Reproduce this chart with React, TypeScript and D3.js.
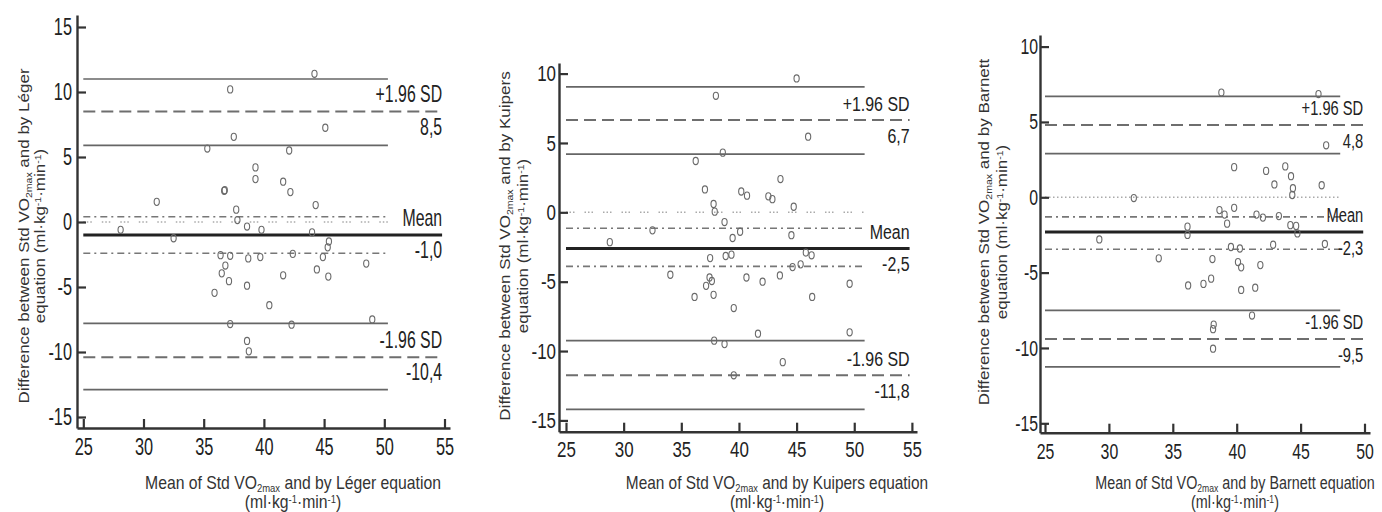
import React, { useEffect, useRef } from 'react';
import { axisBottom, axisLeft, scaleLinear, select } from 'd3';

// Léger equation: mean of both methods vs difference
const legerMean = [44.2, 37.2, 45.1, 37.5, 35.3, 42.1, 39.3, 39.3, 41.6, 42.2, 36.7, 36.75, 31.1, 44.3, 37.7, 37.8, 28.1, 38.6, 39.8, 44.0, 32.5, 45.4, 45.3, 36.4, 37.2, 38.7, 39.7, 42.4, 44.9, 48.5, 36.8, 36.5, 41.6, 44.4, 45.35, 37.1, 38.6, 35.9, 40.45, 37.2, 42.3, 49.0, 38.6, 38.75];
const legerDiff = [11.4, 10.2, 7.25, 6.55, 5.65, 5.5, 4.2, 3.3, 3.1, 2.3, 2.4, 2.45, 1.55, 1.3, 0.95, 0.15, -0.6, -0.35, -0.6, -0.8, -1.25, -1.5, -1.95, -2.55, -2.6, -2.8, -2.7, -2.45, -2.7, -3.2, -3.35, -3.95, -4.1, -3.65, -4.2, -4.55, -4.9, -5.45, -6.4, -7.85, -7.9, -7.5, -9.15, -9.95];

// Kuipers equation
const kuipersMean = [45.0, 38.0, 46.0, 38.6, 36.25, 43.6, 37.05, 40.2, 40.7, 42.55, 42.9, 37.8, 37.9, 44.75, 38.75, 32.5, 40.1, 44.55, 39.45, 28.8, 37.5, 38.85, 39.35, 45.8, 46.3, 45.35, 44.65, 34.05, 37.45, 37.65, 40.65, 42.05, 43.55, 49.6, 37.15, 36.15, 37.8, 46.35, 39.55, 41.65, 49.6, 37.85, 38.75, 43.8, 39.55];
const kuipersDiff = [9.65, 8.4, 5.45, 4.3, 3.7, 2.4, 1.65, 1.5, 1.2, 1.15, 0.95, 0.6, 0.05, 0.4, -0.7, -1.3, -1.4, -1.65, -1.85, -2.15, -3.3, -3.15, -3.05, -2.9, -3.1, -3.75, -3.95, -4.5, -4.7, -4.95, -4.7, -5.0, -4.55, -5.15, -5.3, -6.1, -5.95, -6.1, -6.9, -8.75, -8.65, -9.25, -9.5, -10.8, -11.75];

// Barnett equation
const barnettMean = [38.8, 46.4, 47.0, 39.8, 42.3, 43.8, 44.25, 42.95, 44.4, 44.35, 46.65, 31.95, 38.65, 39.8, 39.05, 39.25, 41.55, 42.05, 43.3, 44.2, 44.65, 44.75, 36.15, 36.15, 29.25, 39.55, 40.25, 42.85, 46.9, 33.9, 38.1, 40.1, 40.35, 41.85, 36.2, 37.4, 38.0, 40.35, 41.45, 41.2, 38.2, 38.15, 38.15];
const barnettDiff = [6.95, 6.85, 3.45, 2.0, 1.75, 2.05, 1.4, 0.85, 0.6, 0.15, 0.8, -0.05, -0.85, -0.7, -1.15, -1.75, -1.15, -1.35, -1.25, -1.85, -1.9, -2.4, -1.95, -2.5, -2.8, -3.3, -3.4, -3.15, -3.1, -4.05, -4.1, -4.3, -4.65, -4.5, -5.85, -5.75, -5.4, -6.15, -6.0, -7.85, -8.45, -8.75, -10.05];

// horizontal reference lines, top to bottom
const lineKinds = ['ci', 'limit', 'ci', 'meanci', 'mean', 'meanci', 'ci', 'limit', 'ci'];
const legerLines = [11.0, 8.5, 5.9, 0.4, -1.0, -2.4, -7.8, -10.4, -12.9];
const kuipersLines = [9.05, 6.65, 4.2, -1.15, -2.6, -3.9, -9.25, -11.75, -14.2];
const barnettLines = [6.7, 4.8, 2.9, -1.3, -2.3, -3.45, -7.5, -9.4, -11.25];

const lineNames = ['+1.96 SD', 'Mean', '-1.96 SD'];
const legerValues = ['8,5', '-1,0', '-10,4'];
const kuipersValues = ['6,7', '-2,5', '-11,8'];
const barnettValues = ['4,8', '-2,3', '-9,5'];

const yTicksA = [15, 10, 5, 0, -5, -10, -15];
const yTicksB = [10, 5, 0, -5, -10, -15];
const xTicksA = [25, 30, 35, 40, 45, 50, 55];
const xTicksB = [25, 30, 35, 40, 45, 50];

const FONT = '"Liberation Sans", Arial, Helvetica, sans-serif';

const panels = [
  {
    id: 'leger', name: 'Léger', mean: legerMean, diff: legerDiff, lines: legerLines, values: legerValues,
    xTicks: xTicksA, yTicks: yTicksA,
    xDomain: [25, 55], xRange: [83.3, 444.5], xAxis: [77, 450],
    yDomain: [15, -15], yRange: [27, 417], yAxis: [15, 428],
    shortEnd: 50.3, longEnd: 54.8,
    tickFont: 24, tickSx: 0.68, yGap: 5, xLabelY: 27,
    labelFont: 24, labelSx: 0.66,
    yTitleX: [29, 45], yTitleY: 236, xTitleX: 293, xTitleSx: 0.9,
    zeroDash: '1.5,2,1.5,2,1.5,10',
  },
  {
    id: 'kuipers', name: 'Kuipers', mean: kuipersMean, diff: kuipersDiff, lines: kuipersLines, values: kuipersValues,
    xTicks: xTicksA, yTicks: yTicksB,
    xDomain: [25, 55], xRange: [566, 911.9], xAxis: [559, 917],
    yDomain: [10, -15], yRange: [73.6, 420.4], yAxis: [63, 431.7],
    shortEnd: 50.9, longEnd: 54.8,
    tickFont: 22, tickSx: 0.77, yGap: 3, xLabelY: 25,
    labelFont: 21, labelSx: 0.76,
    yTitleX: [510, 528], yTitleY: 246, xTitleX: 777, xTitleSx: 0.88,
    zeroDash: '1.5,2,1.5,2,1.5,10',
  },
  {
    id: 'barnett', name: 'Barnett', mean: barnettMean, diff: barnettDiff, lines: barnettLines, values: barnettValues,
    xTicks: xTicksB, yTicks: yTicksB,
    xDomain: [25, 50], xRange: [1045, 1364.5], xAxis: [1040, 1370],
    yDomain: [10, -15], yRange: [46.6, 423.3], yAxis: [35, 432.7],
    shortEnd: 48.1, longEnd: 49.9,
    tickFont: 22, tickSx: 0.72, yGap: 2, xLabelY: 26,
    labelFont: 21, labelSx: 0.7,
    yTitleX: [989, 1007], yTitleY: 232, xTitleX: 1235, xTitleSx: 0.82,
    zeroDash: '1.5,2.5',
  },
];

const lineStyle = {
  ci: { stroke: '#666', width: 1.7, dash: null },
  limit: { stroke: '#6e6e6e', width: 2, dash: '12,6' },
  meanci: { stroke: '#777', width: 1.6, dash: '7,4,2,4' },
  mean: { stroke: '#222', width: 3, dash: null },
};

const Panel = ({ cfg }) => {
  const xAxisRef = useRef(null);
  const yAxisRef = useRef(null);

  const x = scaleLinear().domain(cfg.xDomain).range(cfg.xRange);
  const y = scaleLinear().domain(cfg.yDomain).range(cfg.yRange);

  useEffect(() => {
    const xa = scaleLinear()
      .domain([x.invert(cfg.xAxis[0]), x.invert(cfg.xAxis[1])])
      .range(cfg.xAxis);
    const ya = scaleLinear()
      .domain([y.invert(cfg.yAxis[0]), y.invert(cfg.yAxis[1])])
      .range(cfg.yAxis);

    const gx = select(xAxisRef.current)
      .attr('transform', `translate(0,${cfg.yAxis[1]})`)
      .call(axisBottom(xa).tickValues(cfg.xTicks).tickSizeInner(-9).tickSizeOuter(0).tickFormat((d) => String(d)));
    gx.selectAll('text')
      .attr('y', cfg.xLabelY)
      .attr('dy', null)
      .attr('transform', `scale(${cfg.tickSx},1)`);

    const gy = select(yAxisRef.current)
      .attr('transform', `translate(${cfg.xAxis[0]},0)`)
      .call(axisLeft(ya).tickValues(cfg.yTicks).tickSizeInner(-9).tickSizeOuter(0).tickFormat((d) => String(d)));
    gy.selectAll('text')
      .attr('x', -cfg.yGap / cfg.tickSx)
      .attr('transform', `scale(${cfg.tickSx},1)`);

    [gx, gy].forEach((g) => {
      g.attr('font-size', cfg.tickFont).attr('font-family', FONT);
      g.select('.domain').attr('stroke', '#333').attr('stroke-width', 2.4);
      g.selectAll('.tick line').attr('stroke', '#333').attr('stroke-width', 2.2);
      g.selectAll('text').attr('fill', '#222');
    });
  }, []);

  const x25 = x(cfg.xDomain[0]);
  const shortX = x(cfg.shortEnd);
  const longX = x(cfg.longEnd);
  const sub = 'VO';

  return (
    <g>
      {/* zero reference */}
      <line x1={x25} x2={shortX} y1={y(0)} y2={y(0)} stroke="#aaa" strokeWidth={1.4} strokeDasharray={cfg.zeroDash} />
      {cfg.lines.map((v, i) => {
        const kind = lineKinds[i];
        const st = lineStyle[kind];
        const end = kind === 'limit' || kind === 'mean' ? longX : shortX;
        return (
          <line key={i} x1={x25} x2={end} y1={y(v)} y2={y(v)}
            stroke={st.stroke} strokeWidth={st.width} strokeDasharray={st.dash || undefined} />
        );
      })}
      {[1, 4, 7].map((li, j) => (
        <g key={li} fontFamily={FONT} fontSize={cfg.labelFont} fill="#222">
          <text textAnchor="end" transform={`translate(${longX},${y(cfg.lines[li]) - 9.5}) scale(${cfg.labelSx},1)`}>
            {lineNames[j]}
          </text>
          <text textAnchor="end" transform={`translate(${longX},${y(cfg.lines[li]) + 23}) scale(${cfg.labelSx},1)`}>
            {cfg.values[j]}
          </text>
        </g>
      ))}
      {cfg.mean.map((m, i) => (
        <ellipse key={i} cx={x(m)} cy={y(cfg.diff[i])} rx={2.6} ry={3.6}
          fill="none" stroke="#6a6a6a" strokeWidth={1.1} />
      ))}
      <g ref={xAxisRef} />
      <g ref={yAxisRef} />

      {/* y title */}
      <g fontFamily={FONT} fontSize={17} fill="#333" textAnchor="middle">
        <text transform={`translate(${cfg.yTitleX[0]},${cfg.yTitleY}) rotate(-90) scale(1,0.85)`}>
          Difference between Std {sub}
          <tspan fontSize={10.5} dy={3}>2max</tspan>
          <tspan dy={-3}>{'  and by '}{cfg.name}</tspan>
        </text>
        <text transform={`translate(${cfg.yTitleX[1]},${cfg.yTitleY}) rotate(-90) scale(1,0.85)`}>
          {'equation (ml·kg'}
          <tspan fontSize={10.5} dy={-5}>-1</tspan>
          <tspan dy={5}>·min</tspan>
          <tspan fontSize={10.5} dy={-5}>-1</tspan>
          <tspan dy={5}>)</tspan>
        </text>
      </g>

      {/* x title */}
      <g fontFamily={FONT} fontSize={17.5} fill="#333" textAnchor="middle">
        <text transform={`translate(${cfg.xTitleX},489) scale(${cfg.xTitleSx},1)`}>
          Mean of Std {sub}
          <tspan fontSize={10.5} dy={3}>2max</tspan>
          <tspan dy={-3}>{'  and by '}{cfg.name} equation</tspan>
        </text>
        <text transform={`translate(${cfg.xTitleX},508) scale(${cfg.xTitleSx},1)`}>
          {'(ml·kg'}
          <tspan fontSize={10.5} dy={-5}>-1</tspan>
          <tspan dy={5}>·min</tspan>
          <tspan fontSize={10.5} dy={-5}>-1</tspan>
          <tspan dy={5}>)</tspan>
        </text>
      </g>
    </g>
  );
};

const App = () => (
  <svg width={1382} height={512} style={{ position: 'absolute', left: 0, top: 0, background: '#fff' }}>
    <rect width={1382} height={512} fill="#fff" />
    {panels.map((p) => <Panel key={p.id} cfg={p} />)}
  </svg>
);

export default App;
